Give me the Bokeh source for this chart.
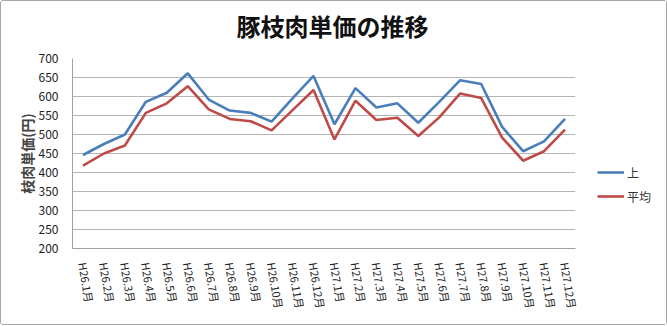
from bokeh.plotting import figure
from bokeh.layouts import column, row
from bokeh.models import FactorRange, Legend, LegendItem, Label, FixedTicker, ColumnDataSource, Range1d
from bokeh.embed import file_html
from bokeh.resources import INLINE

months = ["H26.1月", "H26.2月", "H26.3月", "H26.4月", "H26.5月", "H26.6月",
          "H26.7月", "H26.8月", "H26.9月", "H26.10月", "H26.11月", "H26.12月",
          "H27.1月", "H27.2月", "H27.3月", "H27.4月", "H27.5月", "H27.6月",
          "H27.7月", "H27.8月", "H27.9月", "H27.10月", "H27.11月", "H27.12月"]
upper = [446, 475, 500, 586, 610, 661, 592, 563, 557, 534, 595, 654,
         527, 622, 571, 582, 531, 586, 643, 633, 520, 456, 482, 541]
average = [418, 450, 471, 557, 582, 627, 566, 541, 535, 511, 564, 617,
           487, 589, 538, 544, 496, 545, 608, 596, 492, 431, 456, 513]
series_names = ["上", "平均"]
series_colors = ["#4a7ebb", "#be4b48"]
title_text = "豚枝肉単価の推移"
y_label = "枝肉単価(円)"
y_ticks = [200, 250, 300, 350, 400, 450, 500, 550, 600, 650, 700]

JP = "Noto Sans CJK JP"

src = ColumnDataSource(dict(m=months, up=upper, avg=average))

# --- title strip ---
top = figure(width=665, height=46, x_range=Range1d(0, 665), y_range=Range1d(0, 46),
             x_axis_type=None, y_axis_type=None, output_backend="svg",
             toolbar_location=None, min_border=0)
top.outline_line_color = None
top.grid.visible = False
top.add_layout(Label(x=331, y=22, text=title_text, text_font=JP,
                     text_font_size="24px", text_font_style="bold",
                     text_align="center", text_baseline="middle", text_color="#111111"))

# --- main chart ---
p = figure(width=590, height=277, x_range=FactorRange(*months, range_padding=0),
           y_range=(200, 700), output_backend="svg", toolbar_location=None,
           min_border_left=71, min_border_right=16, min_border_top=11, min_border_bottom=76)
p.outline_line_color = None

r1 = p.line("m", "up", source=src, line_color=series_colors[0], line_width=2.6)
r2 = p.line("m", "avg", source=src, line_color=series_colors[1], line_width=2.6)

p.yaxis.ticker = FixedTicker(ticks=y_ticks)
p.yaxis.axis_line_color = "#a0a0a0"
p.yaxis.major_tick_line_color = None
p.yaxis.minor_tick_line_color = None
p.yaxis.major_label_text_font = JP
p.yaxis.major_label_text_font_size = "12px"
p.yaxis.major_label_text_color = "#222222"
p.yaxis.major_label_standoff = 8
p.yaxis.axis_label = y_label
p.yaxis.axis_label_text_font = JP
p.yaxis.axis_label_text_font_size = "14px"
p.yaxis.axis_label_text_font_style = "bold"
p.yaxis.axis_label_standoff = -1

p.xaxis.axis_line_color = "#a0a0a0"
p.xaxis.major_tick_line_color = None
p.xaxis.minor_tick_line_color = None
p.xaxis.major_label_orientation = -1.40
p.xaxis.major_label_text_font = JP
p.xaxis.major_label_text_font_size = "11px"
p.xaxis.major_label_text_color = "#222222"
p.xaxis.major_label_standoff = 8

p.xgrid.grid_line_color = None
p.ygrid.grid_line_color = "#b4b4b4"
p.ygrid.grid_line_width = 1

# --- legend strip (frame is aligned with the main chart's frame) ---
# The key lines reuse the series but lie outside this strip's y range,
# so only their legend glyphs show.
lg = figure(width=75, height=277, x_range=FactorRange(*months), y_range=Range1d(0, 1),
            x_axis_type=None, y_axis_type=None,
            output_backend="svg", toolbar_location=None, min_border=0)
lg.outline_line_color = None
lg.grid.visible = False
k1 = lg.line("m", "up", source=src, line_color=series_colors[0], line_width=2.6)
k2 = lg.line("m", "avg", source=src, line_color=series_colors[1], line_width=2.6)
legend = Legend(items=[LegendItem(label=series_names[0], renderers=[k1]),
                       LegendItem(label=series_names[1], renderers=[k2])],
                location=(6, 42), orientation="vertical",
                glyph_width=27, glyph_height=20, spacing=4, padding=0, margin=0,
                label_standoff=3, label_text_font=JP, label_text_font_size="12px",
                label_text_color="#333333", border_line_color=None,
                background_fill_alpha=0)
lg.add_layout(legend, "center")

layout = column(top, row(p, lg, spacing=0), spacing=0,
                styles={"border": "1px solid #a6a6a6", "border-radius": "3px"})

open("out.html", "w").write(file_html(layout, INLINE))
